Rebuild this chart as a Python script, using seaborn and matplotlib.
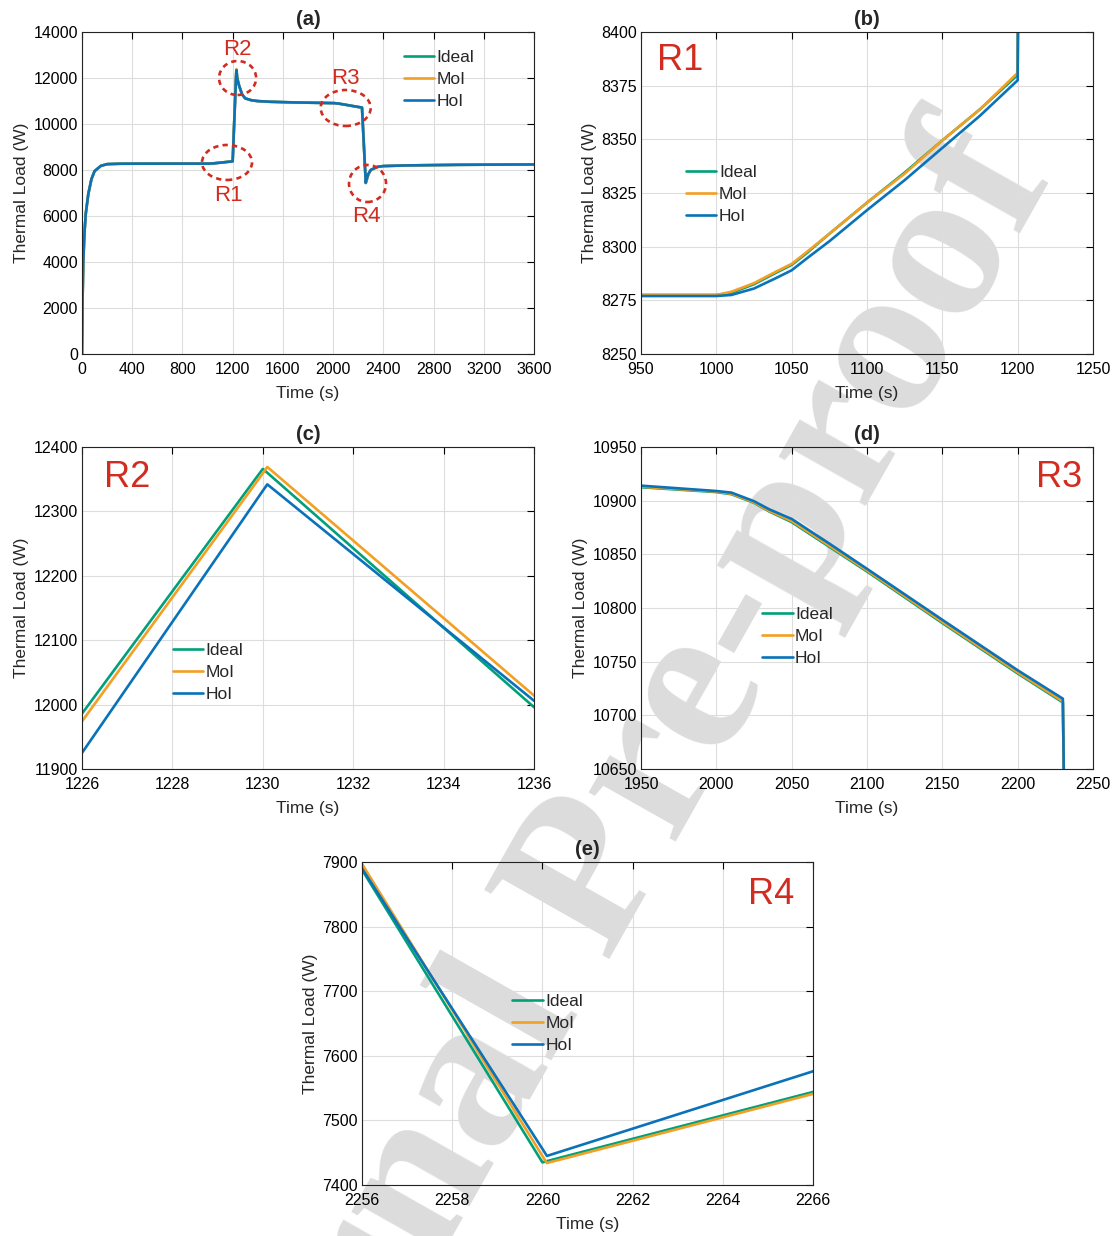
import numpy as np
import pandas as pd
import matplotlib
matplotlib.use("Agg")
import matplotlib.pyplot as plt
from matplotlib.patches import Ellipse
import seaborn as sns

sns.set_style("white")
plt.rcParams['font.family'] = ['Liberation Sans', 'DejaVu Sans']

# ---------------- data ----------------
time = [0, 5, 10, 20, 30, 50, 75, 100, 150, 200, 300, 500, 700, 900, 950, 975,
        1000, 1010, 1025, 1040, 1050, 1060, 1075, 1100, 1125, 1150, 1175, 1200,
        1226, 1230, 1230.1, 1236, 1250, 1275, 1300, 1350, 1400, 1500, 1700,
        1950, 2000, 2010, 2025, 2035, 2050, 2075, 2100, 2150, 2200, 2230,
        2256, 2260, 2260.1, 2266, 2280, 2300, 2350, 2400, 2600, 3000, 3600]

ideal = [0, 2500, 4000, 5300, 6100, 6950, 7600, 7950, 8180, 8255, 8272, 8276, 8277, 8277, 8277.5, 8277.5,
         8277.5, 8278.5, 8282.5, 8288, 8291.5, 8297, 8306, 8320.5, 8334.5, 8349.5, 8364, 8380,
         11986, 12366, 12360, 11996, 11680, 11280, 11110, 11030, 10995, 10965, 10935,
         10912.5, 10908, 10906, 10898, 10890, 10880, 10857, 10834, 10786, 10739, 10712,
         7888, 7435, 7437, 7544, 7790, 7990, 8130, 8170, 8200, 8225, 8240]

mol = [0, 2500, 4000, 5300, 6100, 6950, 7600, 7950, 8180, 8255, 8272, 8276, 8277, 8277, 8277.5, 8277.5,
       8277.5, 8279, 8283, 8288.5, 8292, 8297.5, 8306, 8320.5, 8334, 8349.5, 8364, 8381,
       11974, 12359, 12369, 12014, 11700, 11290, 11115, 11032, 10996, 10966, 10936,
       10913, 10908.5, 10906.5, 10898.5, 10890.5, 10881, 10858, 10835, 10787, 10740, 10713,
       7897, 7445, 7434, 7541, 7785, 7988, 8128, 8170, 8200, 8225, 8240]

hol = [0, 2500, 4000, 5300, 6100, 6950, 7600, 7950, 8180, 8255, 8272, 8276, 8277, 8277, 8277, 8277,
       8277, 8277.5, 8280.5, 8285.5, 8289, 8294.5, 8302.5, 8317, 8331, 8346, 8361, 8377.5,
       11925, 12332, 12342, 12006, 11690, 11290, 11115, 11033, 10997, 10967, 10937,
       10914, 10909, 10907.5, 10899.5, 10892, 10883, 10860, 10836.5, 10789, 10742, 10715.5,
       7890, 7456, 7445, 7576, 7830, 8010, 8135, 8172, 8201, 8226, 8241]

series_names = ["Ideal", "MoI", "HoI"]
colors = ["#00A07A", "#F2A024", "#0A72B8"]
red = "#D22B20"

panel_titles = ["(a)", "(b)", "(c)", "(d)", "(e)"]
xlims = [(0, 3600), (950, 1250), (1226, 1236), (1950, 2250), (2256, 2266)]
ylims = [(0, 14000), (8250, 8400), (11900, 12400), (10650, 10950), (7400, 7900)]
xticks = [np.arange(0, 3601, 400), np.arange(950, 1251, 50), np.arange(1226, 1237, 2),
          np.arange(1950, 2251, 50), np.arange(2256, 2267, 2)]
yticks = [np.arange(0, 14001, 2000), np.arange(8250, 8401, 25), np.arange(11900, 12401, 100),
          np.arange(10650, 10951, 50), np.arange(7400, 7901, 100)]
region_labels = [None, "R1", "R2", "R3", "R4"]

# annotations in panel (a)
ell_cx = [1155, 1239, 2100, 2274]
ell_cy = [8327, 12000, 10696, 7413]
ell_w = [398, 295, 398, 295]
ell_h = [1522, 1478, 1565, 1609]
ann_labels = ["R1", "R2", "R3", "R4"]
ann_x = [1163, 1235, 2095, 2262]
ann_y = [6870, 13220, 11960, 5960]

df = pd.DataFrame({
    "Time": np.tile(time, 3),
    "Load": np.concatenate([ideal, mol, hol]),
    "Series": np.repeat(series_names, len(time)),
})

W, H = 1118, 1236
fig = plt.figure(figsize=(W / 100, H / 100), dpi=100)

# watermark
fig.text(590 / W, 1 - 885 / H, "Journal Pre-proof", rotation=60.5, fontsize=158,
         family="Liberation Serif", weight="bold", color="#dcdcdc",
         ha="center", va="center", zorder=-1)

boxes = [(82, 32, 534, 354), (641, 32, 1093, 354), (82, 447, 534, 769),
         (641, 447, 1093, 769), (362, 862, 813, 1185)]
legend_pos = [(0.712, 0.945), (0.0996, 0.587), (0.201, 0.392), (0.268, 0.503), (0.333, 0.592)]
rl_pos = [None, (0.035, 0.913, "left"), (0.049, 0.905, "left"), (0.976, 0.905, "right"),
          (0.958, 0.90, "right")]

for i, (l, t, r, b) in enumerate(boxes):
    ax = fig.add_axes([l / W, 1 - b / H, (r - l) / W, (b - t) / H])
    ax.set_facecolor("none")
    sns.lineplot(data=df, x="Time", y="Load", hue="Series", hue_order=series_names,
                 palette=colors, estimator=None, sort=False, lw=1.9, ax=ax)
    ax.set_xlim(*xlims[i])
    ax.set_ylim(*ylims[i])
    ax.set_xticks(xticks[i])
    ax.set_yticks(yticks[i])
    ax.grid(True, color="#dddddd", lw=0.8)
    ax.set_axisbelow(True)
    ax.tick_params(direction="in", top=True, right=True, length=5, width=0.8,
                   labelsize=11.5, colors="black")
    ax.tick_params(axis="x", pad=6)
    ax.tick_params(axis="y", pad=3)
    for s in ax.spines.values():
        s.set_visible(True)
        s.set_linewidth(0.8)
        s.set_color("#222222")
    ax.set_xlabel("Time (s)", fontsize=12.5, labelpad=6)
    ax.set_ylabel("Thermal Load (W)", fontsize=12.5, labelpad=3)
    ax.set_title(panel_titles[i], fontsize=14.5, fontweight="bold", pad=5)
    h, lab = ax.get_legend_handles_labels()
    ax.legend(h, lab, frameon=False, loc="upper left", bbox_to_anchor=legend_pos[i],
              borderpad=0, borderaxespad=0, handlelength=1.75, handletextpad=0.15,
              labelspacing=0.4, fontsize=12.5)
    if rl_pos[i] is not None:
        x0, y0, ha = rl_pos[i]
        ax.text(x0, y0, region_labels[i], transform=ax.transAxes, fontsize=26,
                color=red, ha=ha, va="center")
    if i == 0:
        for cx, cy, w, hh in zip(ell_cx, ell_cy, ell_w, ell_h):
            ax.add_patch(Ellipse((cx, cy), w, hh, fill=False, ec=red, lw=1.9,
                                 ls=(0, (2.0, 1.6)), zorder=5))
        for tx, ty, tl in zip(ann_x, ann_y, ann_labels):
            ax.text(tx, ty, tl, fontsize=16, color=red, ha="center", va="center")

fig.savefig("out.png", dpi=100)
